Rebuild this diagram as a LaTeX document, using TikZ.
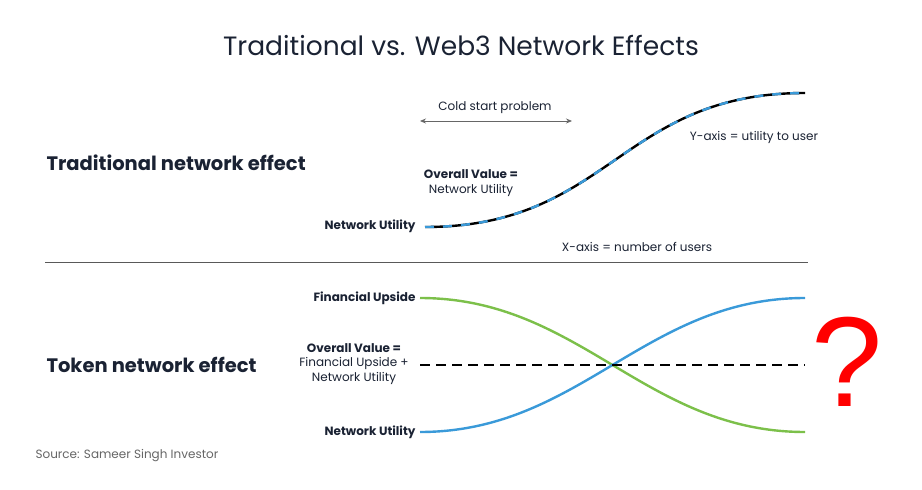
\documentclass[tikz,border=0pt]{standalone}
\usepackage{fontspec}
\usetikzlibrary{arrows.meta}
\setmainfont{Poppins}
\newfontfamily\qfont{Liberation Sans}
\definecolor{navy}{HTML}{1A2233}
\definecolor{lblue}{HTML}{3A9AD9}
\definecolor{lgreen}{HTML}{7CC04A}
\tikzset{
 lbl/.style={font=\fontsize{12}{14.5}\selectfont,text=navy,align=center},
 blbl/.style={font=\bfseries\fontsize{12}{14.5}\selectfont,text=navy,align=center},
 head/.style={font=\bfseries\fontsize{19.5}{22}\selectfont,text=navy,anchor=west},
 curve/.style={line width=2.4pt},
}
\begin{document}
\begin{tikzpicture}[x=1pt,y=-1pt]
\useasboundingbox[fill=white] (0,0) rectangle (922,490);
\node[font=\fontsize{26.5}{30}\selectfont,text=navy] (title) at (461,45) {Traditional vs. Web3 Network Effects};
\node[head] (trad) at (43,163) {Traditional network effect};
\node[head] (tok) at (43,365) {Token network effect};
\node[lbl,text=gray!80!black,anchor=west] (src) at (32,456) {Source: Sameer Singh Investor};
% top
\coordinate (ts) at (425,227); \coordinate (te) at (805,93);
\draw[curve,black] (ts) .. controls (610,227) and (620,93) .. (te);
\draw[curve,lblue,dash pattern=on 9pt off 9pt] (ts) .. controls (610,227) and (620,93) .. (te);
\node[blbl,anchor=east] (nu1) at (419,226) {Network Utility};
\node[lbl] (ov1) at (471,183) {\textbf{Overall Value =}\\Network Utility};
\node[lbl] (cold) at (495,108) {Cold start problem};
\coordinate (ca) at (420,121); \coordinate (cb) at (572,121);
\draw[gray!80!black,line width=0.8pt,<->,>={Stealth[length=6pt,width=5pt]}] (ca) -- (cb);
\node[lbl] (yax) at (754,137) {Y-axis = utility to user};
\node[lbl] (xax) at (637,247) {X-axis = number of users};
\coordinate (s1) at (45,262); \coordinate (s2) at (808,262);
\draw[gray!70!black,line width=0.8pt] (s1) -- (s2);
% bottom
\coordinate (g1) at (420,298); \coordinate (g2) at (805,432);
\coordinate (b1) at (420,432); \coordinate (b2) at (805,298);
\draw[curve,lgreen] (g1) .. controls (580,298) and (645,432) .. (g2);
\draw[curve,lblue] (b1) .. controls (580,432) and (645,298) .. (b2);
\coordinate (d1) at (420,365); \coordinate (d2) at (805,365);
\draw[line width=2.2pt,dash pattern=on 10pt off 6pt] (d1) -- (d2);
\node[blbl,anchor=east] (fu) at (419,298) {Financial Upside};
\node[blbl,anchor=east] (nu2) at (419,432) {Network Utility};
\node[lbl] (ov2) at (354,364) {\textbf{Overall Value =}\\Financial Upside +\\Network Utility};
\node[text=red,font=\qfont\fontsize{128}{135}\selectfont] (q) at (847,362) {?};
\end{tikzpicture}
\end{document}
